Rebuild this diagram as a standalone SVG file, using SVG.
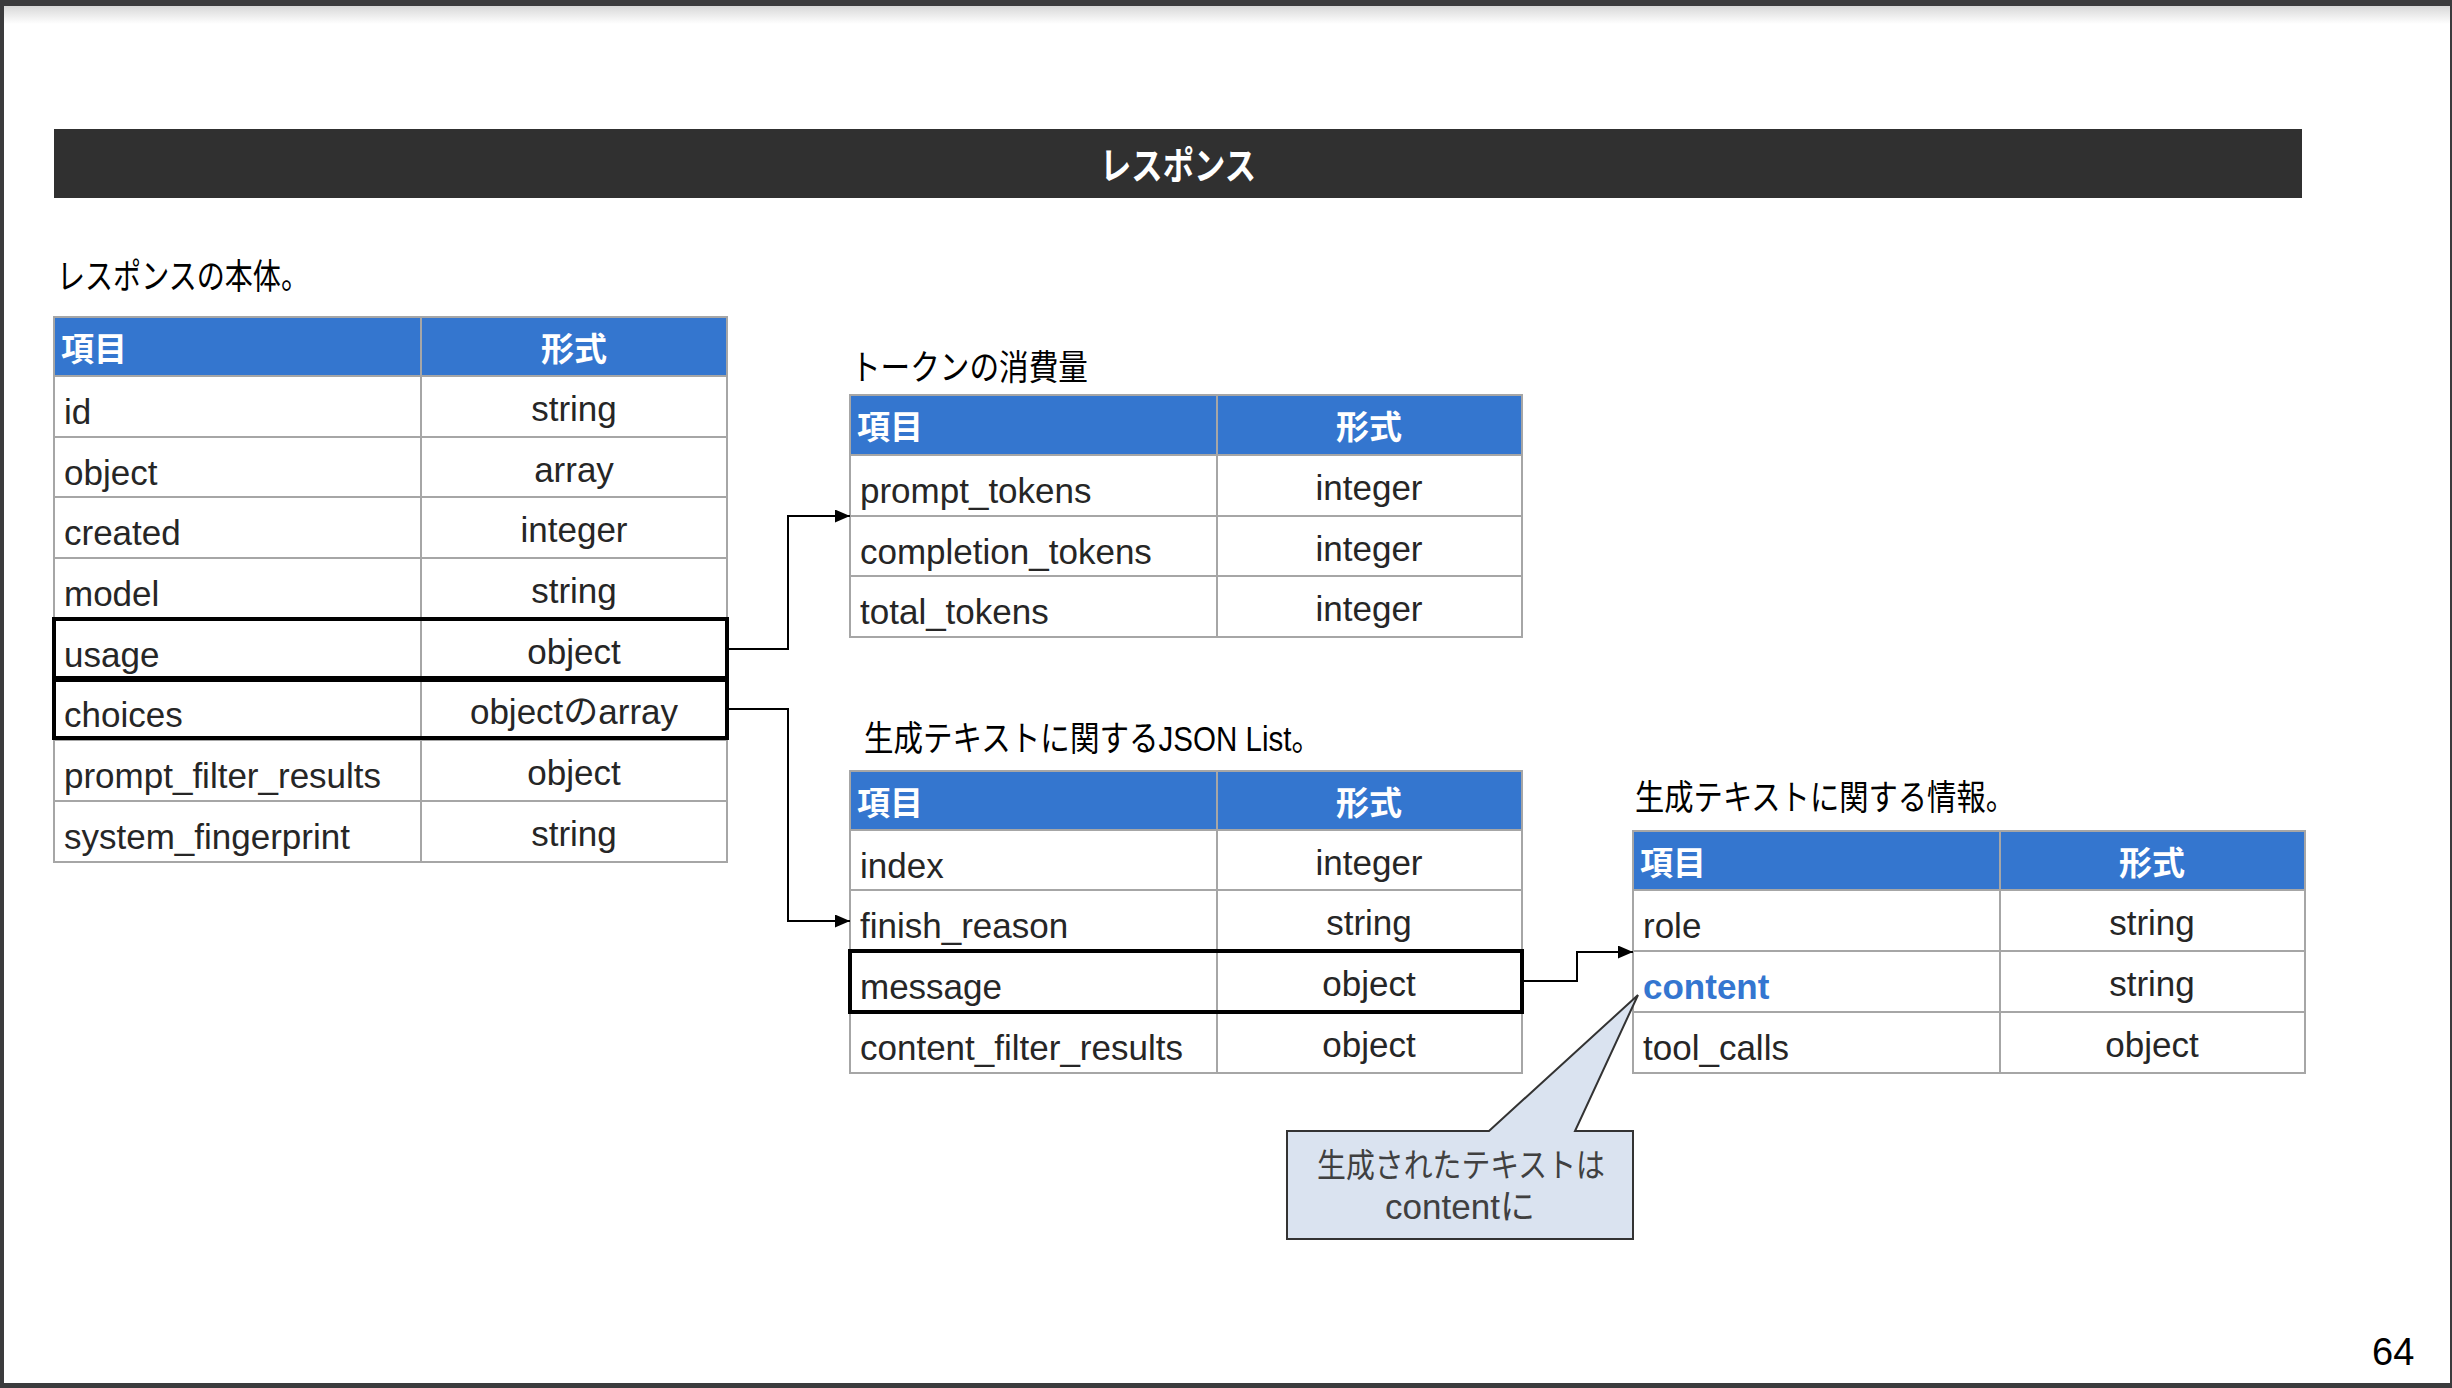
<svg xmlns="http://www.w3.org/2000/svg" width="2452" height="1388" viewBox="0 0 2452 1388">
<defs>
<linearGradient id="shadow" x1="0" y1="0" x2="0" y2="1">
<stop offset="0" stop-color="#d8d8d8"/>
<stop offset="1" stop-color="#ffffff"/>
</linearGradient>
<marker id="arr" viewBox="0 0 15 13" refX="15" refY="6.5" markerWidth="15" markerHeight="13" markerUnits="userSpaceOnUse" orient="auto">
<path d="M0,0 L15,6.5 L0,13 Z" fill="#000"/>
</marker>
<style>
.hd{fill:#3476cf}
.grid{stroke:#a6a6a6;stroke-width:2;fill:none}
.hx{font-family:"Noto Sans CJK JP",sans-serif;font-size:33px;font-weight:bold;fill:#fff}
.c{font-family:"Liberation Sans","Noto Sans CJK JP",sans-serif;font-size:35px;fill:#262626}
.r{text-anchor:middle}
.lbl{font-family:"Liberation Sans","Noto Sans CJK JP",sans-serif;font-size:35px;fill:#000}
.sel{fill:none;stroke:#000;stroke-width:4}
.con{fill:none;stroke:#000;stroke-width:2}
</style>
</defs>
<rect x="0" y="0" width="2452" height="1388" fill="#fff"/>
<rect x="0" y="6" width="2452" height="18" fill="url(#shadow)"/>
<rect x="0" y="0" width="2452" height="6" fill="#3b3b3d"/>
<rect x="0" y="0" width="4" height="1388" fill="#3b3b3d"/>
<rect x="2450" y="0" width="2" height="1388" fill="#3b3b3d"/>
<rect x="0" y="1383" width="2452" height="5" fill="#3b3b3d"/>

<g id="title">
<rect x="54" y="129" width="2248" height="69" fill="#303030"/>
<text x="1178" y="179" text-anchor="middle" font-family="Noto Sans CJK JP, sans-serif" font-size="38" font-weight="bold" fill="#fff" textLength="156" lengthAdjust="spacingAndGlyphs">レスポンス</text>
</g>

<g id="labels">
<text class="lbl" x="57" y="289" textLength="252" lengthAdjust="spacingAndGlyphs">レスポンスの本体。</text>
<text class="lbl" x="851" y="380" textLength="237" lengthAdjust="spacingAndGlyphs">トークンの消費量</text>
<text class="lbl" x="864" y="751" textLength="457" lengthAdjust="spacingAndGlyphs">生成テキストに関するJSON List。</text>
<text class="lbl" x="1635" y="810" textLength="380" lengthAdjust="spacingAndGlyphs">生成テキストに関する情報。</text>
</g>

<g id="table-response">
<rect class="hd" x="54" y="317" width="673" height="59"/>
<rect class="grid" x="54" y="317" width="673" height="545"/>
<path class="grid" d="M54,376H727M54,437H727M54,497H727M54,558H727M54,619H727M54,679H727M54,740H727M54,801H727M421,317V862"/>
<text class="hx" x="61" y="361">項目</text>
<text class="hx r" x="574" y="361">形式</text>
<text class="c" x="64" y="424">id</text><text class="c r" x="574" y="421">string</text>
<text class="c" x="64" y="485">object</text><text class="c r" x="574" y="482">array</text>
<text class="c" x="64" y="545">created</text><text class="c r" x="574" y="542">integer</text>
<text class="c" x="64" y="606">model</text><text class="c r" x="574" y="603">string</text>
<text class="c" x="64" y="667">usage</text><text class="c r" x="574" y="664">object</text>
<text class="c" x="64" y="727">choices</text><text class="c r" x="574" y="724">objectのarray</text>
<text class="c" x="64" y="788">prompt_filter_results</text><text class="c r" x="574" y="785">object</text>
<text class="c" x="64" y="849">system_fingerprint</text><text class="c r" x="574" y="846">string</text>
<rect class="sel" x="54" y="619" width="673" height="59"/>
<rect class="sel" x="54" y="680" width="673" height="58"/>
</g>

<g id="table-usage">
<rect class="hd" x="850" y="395" width="672" height="60"/>
<rect class="grid" x="850" y="395" width="672" height="242"/>
<path class="grid" d="M850,455H1522M850,516H1522M850,576H1522M1217,395V637"/>
<text class="hx" x="857" y="439">項目</text>
<text class="hx r" x="1369" y="439">形式</text>
<text class="c" x="860" y="503">prompt_tokens</text><text class="c r" x="1369" y="500">integer</text>
<text class="c" x="860" y="564">completion_tokens</text><text class="c r" x="1369" y="561">integer</text>
<text class="c" x="860" y="624">total_tokens</text><text class="c r" x="1369" y="621">integer</text>
</g>

<g id="table-choices">
<rect class="hd" x="850" y="771" width="672" height="59"/>
<rect class="grid" x="850" y="771" width="672" height="302"/>
<path class="grid" d="M850,830H1522M850,890H1522M850,951H1522M850,1012H1522M1217,771V1073"/>
<text class="hx" x="857" y="815">項目</text>
<text class="hx r" x="1369" y="815">形式</text>
<text class="c" x="860" y="878">index</text><text class="c r" x="1369" y="875">integer</text>
<text class="c" x="860" y="938">finish_reason</text><text class="c r" x="1369" y="935">string</text>
<text class="c" x="860" y="999">message</text><text class="c r" x="1369" y="996">object</text>
<text class="c" x="860" y="1060">content_filter_results</text><text class="c r" x="1369" y="1057">object</text>
<rect class="sel" x="850" y="951" width="672" height="61"/>
</g>

<g id="table-message">
<rect class="hd" x="1633" y="831" width="672" height="59"/>
<rect class="grid" x="1633" y="831" width="672" height="242"/>
<path class="grid" d="M1633,890H2305M1633,951H2305M1633,1012H2305M2000,831V1073"/>
<text class="hx" x="1640" y="875">項目</text>
<text class="hx r" x="2152" y="875">形式</text>
<text class="c" x="1643" y="938">role</text><text class="c r" x="2152" y="935">string</text>
<text class="c" x="1643" y="999" style="fill:#3476d0;font-weight:bold">content</text><text class="c r" x="2152" y="996">string</text>
<text class="c" x="1643" y="1060">tool_calls</text><text class="c r" x="2152" y="1057">object</text>
</g>

<g id="connectors">
<path class="con" d="M729,649H788V516H850" marker-end="url(#arr)"/>
<path class="con" d="M729,709H788V921H850" marker-end="url(#arr)"/>
<path class="con" d="M1524,981H1577V952H1633" marker-end="url(#arr)"/>
</g>

<g id="callout">
<path d="M1287,1131H1489L1638,995L1575,1131H1633V1239H1287Z" fill="#dae3f0" stroke="#333" stroke-width="2"/>
<text x="1461" y="1177" text-anchor="middle" font-family="Noto Sans CJK JP, sans-serif" font-size="33" fill="#404040" textLength="288" lengthAdjust="spacingAndGlyphs">生成されたテキストは</text>
<text x="1460" y="1219" text-anchor="middle" font-family="Liberation Sans, Noto Sans CJK JP, sans-serif" font-size="35" fill="#404040">contentに</text>
</g>

<g id="page">
<text x="2372" y="1365" font-family="Liberation Sans, sans-serif" font-size="38" fill="#000">64</text>
</g>
</svg>
